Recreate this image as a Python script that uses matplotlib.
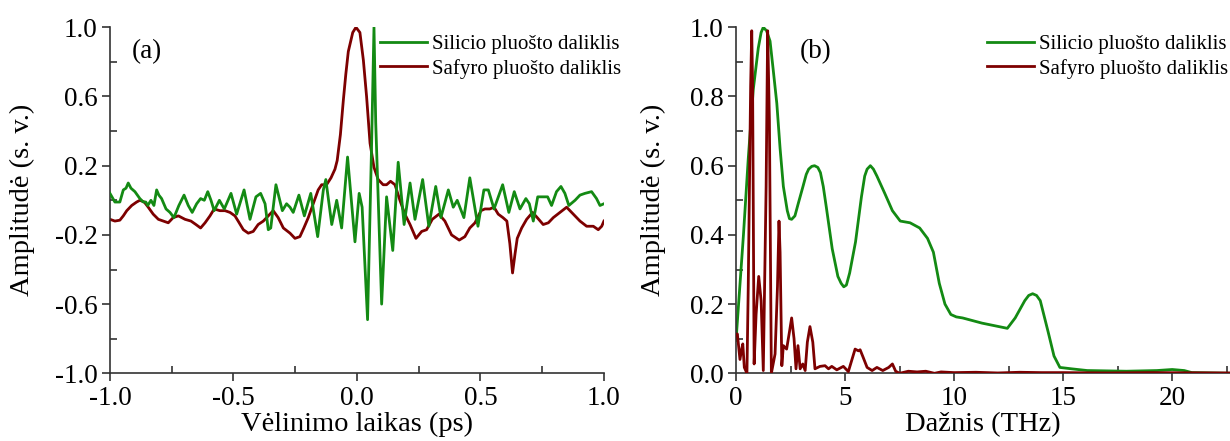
import numpy as np
import matplotlib as mpl
mpl.use('Agg')
from matplotlib import pyplot as plt
import matplotlib.ticker as ticker

mpl.rcParams['font.family'] = 'Liberation Serif'
mpl.rcParams['axes.unicode_minus'] = False

GREEN = '#138a13'
RED = '#7d0000'

# (a) time domain
t_si = [-1.000, -0.980, -0.960, -0.946, -0.935, -0.926, -0.915, -0.899, -0.879, -0.865,
        -0.855, -0.847, -0.834, -0.822, -0.811, -0.802, -0.791, -0.773, -0.757, -0.741,
        -0.721, -0.700, -0.683, -0.667, -0.649, -0.633, -0.618, -0.604, -0.591, -0.578,
        -0.557, -0.537, -0.510, -0.487, -0.457, -0.433, -0.409, -0.390, -0.372, -0.359,
        -0.349, -0.328, -0.302, -0.285, -0.271, -0.258, -0.235, -0.213, -0.187, -0.159,
        -0.136, -0.126, -0.102, -0.082, -0.062, -0.038, -0.008, 0.009, 0.021, 0.043,
        0.059, 0.069, 0.076, 0.100, 0.120, 0.145, 0.167, 0.191, 0.215, 0.235,
        0.266, 0.291, 0.319, 0.340, 0.370, 0.390, 0.406, 0.433, 0.457, 0.490,
        0.514, 0.532, 0.555, 0.590, 0.615, 0.637, 0.660, 0.684, 0.698, 0.714,
        0.732, 0.748, 0.772, 0.788, 0.808, 0.826, 0.842, 0.858, 0.883, 0.903,
        0.923, 0.950, 0.970, 0.984, 1.000]
a_si = [0.04, -0.01, -0.01, 0.06, 0.07, 0.10, 0.07, 0.05, 0.01, -0.01,
        -0.01, -0.03, 0.00, -0.03, 0.06, 0.03, 0.01, -0.05, -0.07, -0.10,
        -0.03, 0.03, -0.03, -0.07, -0.02, 0.01, 0.00, 0.05, 0.00, -0.06,
        0.00, -0.05, 0.04, -0.08, 0.06, -0.11, 0.02, 0.04, -0.02, -0.17,
        -0.16, 0.09, -0.06, -0.02, -0.04, -0.07, 0.03, -0.09, 0.04, -0.21,
        0.06, 0.12, -0.14, 0.00, -0.16, 0.25, -0.24, 0.04, -0.04, -0.69,
        0.30, 1.00, 0.45, -0.60, 0.02, -0.29, 0.22, -0.14, 0.10, -0.11,
        0.12, -0.15, 0.08, -0.10, 0.06, -0.04, 0.00, -0.10, 0.13, -0.15,
        0.06, 0.06, -0.05, 0.09, -0.07, 0.05, -0.05, 0.01, -0.02, -0.12,
        0.02, 0.02, 0.02, -0.03, 0.05, 0.08, 0.04, -0.03, 0.00, 0.03,
        0.04, 0.05, 0.01, -0.03, -0.02]

t_sa = [-1.000, -0.980, -0.960, -0.946, -0.932, -0.912, -0.892, -0.879, -0.861, -0.845,
        -0.825, -0.804, -0.784, -0.764, -0.744, -0.723, -0.696, -0.672, -0.652, -0.633,
        -0.615, -0.595, -0.578, -0.555, -0.534, -0.514, -0.494, -0.481, -0.460, -0.440,
        -0.420, -0.400, -0.379, -0.359, -0.339, -0.319, -0.298, -0.271, -0.251, -0.231,
        -0.215, -0.197, -0.177, -0.157, -0.143, -0.123, -0.105, -0.089, -0.080, -0.067,
        -0.055, -0.045, -0.035, -0.017, -0.004, 0.012, 0.026, 0.039, 0.053, 0.069,
        0.086, 0.106, 0.120, 0.136, 0.154, 0.174, 0.194, 0.215, 0.239, 0.262,
        0.282, 0.305, 0.332, 0.356, 0.383, 0.414, 0.437, 0.457, 0.478, 0.502,
        0.518, 0.538, 0.555, 0.572, 0.591, 0.607, 0.619, 0.630, 0.640, 0.649,
        0.667, 0.687, 0.711, 0.730, 0.754, 0.775, 0.795, 0.822, 0.849, 0.876,
        0.903, 0.930, 0.957, 0.977, 0.991, 1.000]
a_sa = [-0.11, -0.12, -0.115, -0.09, -0.06, -0.03, -0.01, 0.00, -0.01, -0.04,
        -0.08, -0.11, -0.12, -0.13, -0.10, -0.09, -0.11, -0.12, -0.14, -0.16,
        -0.13, -0.09, -0.05, -0.06, -0.06, -0.07, -0.09, -0.12, -0.17, -0.19,
        -0.18, -0.14, -0.12, -0.09, -0.06, -0.10, -0.16, -0.19, -0.22, -0.21,
        -0.16, -0.10, -0.02, 0.06, 0.09, 0.09, 0.13, 0.18, 0.23, 0.38,
        0.58, 0.73, 0.86, 0.97, 1.00, 0.97, 0.81, 0.60, 0.33, 0.19,
        0.12, 0.09, 0.09, 0.11, 0.09, 0.00, -0.08, -0.14, -0.22, -0.18,
        -0.17, -0.11, -0.08, -0.12, -0.20, -0.23, -0.21, -0.16, -0.13, -0.06,
        -0.05, -0.05, -0.04, -0.08, -0.10, -0.12, -0.25, -0.42, -0.31, -0.22,
        -0.16, -0.11, -0.07, -0.10, -0.14, -0.13, -0.10, -0.07, -0.04, -0.08,
        -0.12, -0.15, -0.15, -0.17, -0.15, -0.12]

# (b) spectra
f_si = [0.0, 0.34, 0.56, 0.79, 1.02, 1.15, 1.25, 1.40, 1.56, 1.70,
        1.87, 2.02, 2.17, 2.35, 2.45, 2.55, 2.70, 2.85, 3.07, 3.22,
        3.33, 3.47, 3.60, 3.75, 3.87, 4.00, 4.14, 4.41, 4.67, 4.82,
        4.94, 5.06, 5.21, 5.48, 5.75, 5.90, 6.01, 6.16, 6.30, 6.46,
        6.82, 7.17, 7.53, 7.98, 8.42, 8.78, 9.05, 9.32, 9.58, 9.85,
        10.10, 10.39, 11.28, 12.44, 12.80, 13.24, 13.42, 13.60, 13.78, 13.95,
        14.31, 14.58, 14.85, 15.38, 16.1, 17.9, 19.3, 20.0, 20.55, 20.9,
        22.7]
s_si = [0.095, 0.40, 0.62, 0.82, 0.94, 0.985, 1.00, 0.99, 0.96, 0.88,
        0.78, 0.65, 0.54, 0.47, 0.447, 0.445, 0.455, 0.49, 0.54, 0.575,
        0.59, 0.598, 0.60, 0.595, 0.58, 0.54, 0.48, 0.36, 0.28, 0.26,
        0.25, 0.255, 0.29, 0.38, 0.51, 0.57, 0.59, 0.60, 0.59, 0.57,
        0.52, 0.47, 0.44, 0.435, 0.42, 0.39, 0.35, 0.26, 0.20, 0.17,
        0.163, 0.16, 0.145, 0.13, 0.16, 0.21, 0.225, 0.23, 0.225, 0.21,
        0.12, 0.05, 0.017, 0.013, 0.008, 0.006, 0.008, 0.011, 0.008, 0.002,
        0.0]

f_sa = [0.0, 0.06, 0.18, 0.26, 0.31, 0.38, 0.50, 0.56, 0.67, 0.72,
        0.76, 0.83, 0.92, 1.04, 1.15, 1.25, 1.38, 1.45, 1.53, 1.62,
        1.79, 1.90, 1.97, 2.02, 2.10, 2.17, 2.32, 2.45, 2.55, 2.66,
        2.75, 2.84, 2.94, 3.06, 3.17, 3.27, 3.39, 3.52, 3.62, 3.85,
        4.08, 4.24, 4.39, 4.62, 4.92, 5.15, 5.46, 5.61, 5.69, 5.83,
        6.01, 6.24, 6.46, 6.73, 7.00, 7.17, 7.32, 7.50, 7.90, 8.30,
        8.70, 9.10, 9.40, 10.0, 11.0, 12.0, 13.0, 14.0, 15.0, 17.0,
        19.0, 22.7]
s_sa = [0.11, 0.114, 0.04, 0.07, 0.085, 0.017, 0.0, 0.25, 0.83, 0.99,
        0.83, 0.027, 0.17, 0.28, 0.21, 0.008, 0.54, 0.99, 0.73, 0.0,
        0.056, 0.25, 0.44, 0.35, 0.022, 0.08, 0.07, 0.12, 0.16, 0.10,
        0.013, 0.08, 0.013, 0.027, 0.008, 0.09, 0.135, 0.09, 0.013, 0.02,
        0.022, 0.013, 0.02, 0.01, 0.02, 0.005, 0.07, 0.065, 0.068, 0.046,
        0.017, 0.008, 0.017, 0.008, 0.017, 0.027, 0.006, 0.0, 0.006, 0.004,
        0.006, 0.0, 0.004, 0.002, 0.003, 0.001, 0.003, 0.002, 0.002, 0.001,
        0.002, 0.001]

labels = ['Silicio pluošto daliklis', 'Safyro pluošto daliklis']

fig = plt.figure(figsize=(12.3, 4.41), dpi=100)
ax1 = fig.add_axes([0.0894, 0.1535, 0.4016, 0.7846])
ax2 = fig.add_axes([0.5984, 0.1535, 0.4016, 0.7846])


def style(ax):
    for s in ax.spines.values():
        s.set_color('#333333')
        s.set_linewidth(1.2)
    ax.spines['top'].set_visible(False)
    ax.spines['right'].set_visible(False)
    ax.tick_params(which='major', direction='out', length=6, width=1.2,
                   color='#333333', labelsize=19.5, pad=3)
    ax.tick_params(which='minor', direction='in', length=5, width=1.2,
                   color='#333333')


ax1.plot(t_sa, a_sa, color=RED, lw=2.0, zorder=2, label=labels[1])
ax1.plot(t_si, a_si, color=GREEN, lw=2.0, zorder=3, label=labels[0])
ax1.set_xlim(-1, 1)
ax1.set_ylim(-1, 1)
ax1.set_xticks([-1.0, -0.5, 0.0, 0.5, 1.0])
ax1.set_yticks([-1.0, -0.6, -0.2, 0.2, 0.6, 1.0])
ax1.xaxis.set_minor_locator(ticker.MultipleLocator(0.25))
ax1.yaxis.set_minor_locator(ticker.MultipleLocator(0.2))
ax1.xaxis.set_major_formatter(ticker.FormatStrFormatter('%.1f'))
ax1.yaxis.set_major_formatter(ticker.FormatStrFormatter('%.1f'))
style(ax1)
ax1.set_xlabel('Vėlinimo laikas (ps)', fontsize=20.5)
ax1.set_ylabel('Amplitudė (s. v.)', fontsize=20.5)
ax1.xaxis.set_label_coords(0.5, -0.112)
ax1.yaxis.set_label_coords(-0.152, 0.5)
ax1.text(0.045, 0.93, '(a)', transform=ax1.transAxes, fontsize=19.5, va='center')
h, l = ax1.get_legend_handles_labels()
ax1.legend(h[::-1], l[::-1], loc='upper left', bbox_to_anchor=(0.547, 0.978),
           frameon=False, fontsize=15, handlelength=2.25, handletextpad=0.25,
           labelspacing=0.2, borderpad=0, borderaxespad=0)

ax2.plot(f_si, s_si, color=GREEN, lw=2.0, zorder=2, label=labels[0])
ax2.plot(f_sa, s_sa, color=RED, lw=2.0, zorder=3, label=labels[1])
ax2.set_xlim(0, 22.65)
ax2.set_ylim(0, 1)
ax2.set_xticks([0, 5, 10, 15, 20])
ax2.set_yticks([0.0, 0.2, 0.4, 0.6, 0.8, 1.0])
ax2.xaxis.set_minor_locator(ticker.MultipleLocator(2.5))
ax2.yaxis.set_minor_locator(ticker.MultipleLocator(0.1))
ax2.yaxis.set_major_formatter(ticker.FormatStrFormatter('%.1f'))
style(ax2)
ax2.set_xlabel('Dažnis (THz)', fontsize=20.5)
ax2.set_ylabel('Amplitudė (s. v.)', fontsize=20.5)
ax2.xaxis.set_label_coords(0.5, -0.112)
ax2.yaxis.set_label_coords(-0.142, 0.5)
ax2.text(0.13, 0.93, '(b)', transform=ax2.transAxes, fontsize=19.5, va='center')
ax2.legend(loc='upper left', bbox_to_anchor=(0.508, 0.978),
           frameon=False, fontsize=15, handlelength=2.25, handletextpad=0.25,
           labelspacing=0.2, borderpad=0, borderaxespad=0)

plt.savefig('out.png', dpi=100)
